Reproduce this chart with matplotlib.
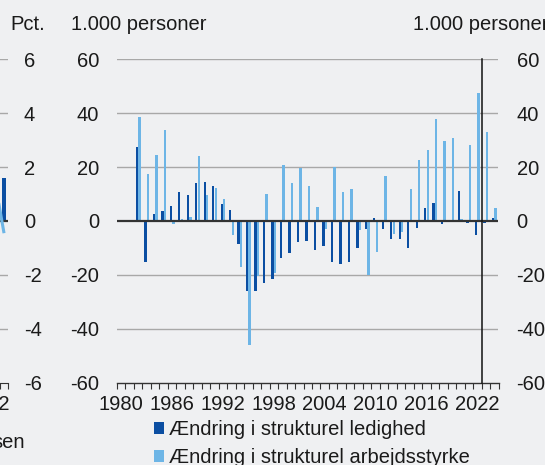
import numpy as np
import matplotlib
matplotlib.use("Agg")
import matplotlib.pyplot as plt
from matplotlib.patches import Patch

plt.rcParams['font.family'] = ['Liberation Sans', 'DejaVu Sans']

# ---------------- data ----------------
years = list(range(1982, 2025))
ledighed = [27.3, -15.3, 2.4, 3.5, 5.6, 10.6, 9.8, 13.9, 14.3, 12.9,
            6.1, 4.1, -8.4, -26.1, -26.0, -23.0, -21.5, -13.7, -11.9, -7.7,
            -7.6, -10.7, -9.3, -15.4, -16.0, -15.4, -10.1, -3.1, 1.0, -3.0,
            -6.7, -6.8, -10.1, -2.5, 4.7, 6.5, -1.0, 0.0, 11.2, -0.7,
            -5.1, -0.7, 1.2]
arbejdsstyrke = [38.6, 17.3, 24.3, 33.7, -1.0, 0.6, 1.4, 24.1, 9.8, 12.4,
                 8.0, -5.1, -17.3, -46.0, -20.4, 9.9, -19.3, 20.6, 14.2, 19.8,
                 12.9, 5.3, -3.1, 20.1, 10.9, 12.0, -3.4, -20.1, -11.7, 16.5,
                 -5.0, -4.1, 12.0, 22.7, 26.2, 37.9, 29.6, 30.7, 0.7, 28.0,
                 47.6, 33.0, 4.7]
xtick_labels = ['1980', '1986', '1992', '1998', '2004', '2010', '2016', '2022']
ytick_values = [-60, -40, -20, 0, 20, 40, 60]
legend_labels = ['Ændring i strukturel ledighed', 'Ændring i strukturel arbejdsstyrke']
projection_start = 2022.5

# neighbouring (cropped) chart at the left edge
left_bar_years = [2024]
left_bar = [1.6]
left_line_years = [2023, 2024]
left_line = [1.4, -0.4]
left_yticks = [-6, -4, -2, 0, 2, 4, 6]
left_xtick_labels = ['2022']

# ---------------- style ----------------
BG = '#eff0f2'
DARK = '#0b4ea2'
LIGHT = '#6db5e6'
GRID = '#a8a8a8'
TXT = '#1a1a1a'
FS = 14.5

W, H = 545, 465
fig = plt.figure(figsize=(W / 100, H / 100), dpi=100, facecolor=BG)

y_top, y_bot = 59.3, 382.5


def fx(px):
    return px / W


def fy(px):
    return 1 - px / H


# ---------------- main chart ----------------
x0, x1 = 117, 498.5
ax = fig.add_axes([fx(x0), fy(y_bot), fx(x1 - x0), (y_bot - y_top) / H])
ax.set_facecolor(BG)
ax.set_xlim(1979.5, 2024.5)
ax.set_ylim(-60, 60)

yr = np.array(years, dtype=float)
bw = 0.28
ax.bar(yr - 0.15, ledighed, width=bw, color=DARK, zorder=3, linewidth=0)
ax.bar(yr + 0.15, arbejdsstyrke, width=bw, color=LIGHT, zorder=3, linewidth=0)

for v in ytick_values:
    if v not in (0, -60):
        ax.axhline(v, color=GRID, lw=1.0, zorder=1)
ax.axhline(0, color='#333333', lw=1.6, zorder=4)
ax.axvline(projection_start, color='#111111', lw=1.1, zorder=5, clip_on=False)

for s in ['left', 'right', 'top']:
    ax.spines[s].set_visible(False)
ax.spines['bottom'].set_color('#333333')
ax.spines['bottom'].set_linewidth(1.0)

ax.set_xticks(np.arange(1979.5, 2025, 1.0))
ax.set_xticklabels([])
ax.tick_params(axis='x', which='major', length=4, width=0.8, color='#333333', direction='out')
ax.set_xticks([int(t) for t in xtick_labels], minor=True)
ax.set_xticklabels(xtick_labels, minor=True, fontsize=FS, color=TXT)
ax.tick_params(axis='x', which='minor', length=0, pad=9)

ax.set_yticks(ytick_values)
ax.set_yticklabels([str(v) for v in ytick_values], fontsize=FS, color=TXT)
ax.tick_params(axis='y', length=0, pad=13)

ax2 = ax.twinx()
ax2.set_ylim(-60, 60)
ax2.set_yticks(ytick_values)
ax2.set_yticklabels([str(v) for v in ytick_values], fontsize=FS, color=TXT)
ax2.tick_params(axis='y', length=0, pad=13)
for s in ax2.spines.values():
    s.set_visible(False)

fig.text(fx(71), fy(30), '1.000 personer', fontsize=FS, color=TXT, va='baseline', ha='left')
fig.text(fx(413), fy(30), '1.000 personer', fontsize=FS, color=TXT, va='baseline', ha='left')
fig.text(fx(10), fy(30), 'Pct.', fontsize=FS, color=TXT, va='baseline', ha='left')

handles = [Patch(facecolor=DARK, edgecolor='none'), Patch(facecolor=LIGHT, edgecolor='none')]
fig.legend(handles, legend_labels, loc='upper left', bbox_to_anchor=(fx(154), fy(420)),
           frameon=False, fontsize=FS, handlelength=0.5, handleheight=0.5,
           handletextpad=0.25, labelspacing=0.45, borderpad=0, borderaxespad=0,
           labelcolor=TXT)

# ---------------- cropped neighbouring chart ----------------
lx1 = 8
lx0 = -200
axL = fig.add_axes([fx(lx0), fy(y_bot), fx(lx1 - lx0), (y_bot - y_top) / H])
axL.set_facecolor(BG)
axL.set_xlim(2000.0, 2024.5)
axL.set_ylim(-6, 6)
for v in left_yticks:
    if v not in (0, -6):
        axL.axhline(v, color=GRID, lw=1.0, zorder=1)
axL.axhline(0, color='#333333', lw=1.6, zorder=4)
axL.bar(left_bar_years, left_bar, width=0.45, color=DARK, zorder=3, linewidth=0)
axL.plot(left_line_years, left_line, color=LIGHT, lw=2.2, zorder=5)
for s in ['left', 'right', 'top']:
    axL.spines[s].set_visible(False)
axL.spines['bottom'].set_color('#333333')
axL.set_xticks(np.arange(2000.5, 2025, 1.0))
axL.set_xticklabels([])
axL.tick_params(axis='x', which='major', length=4, width=0.8, color='#333333')
axL.set_xticks([int(t) for t in left_xtick_labels], minor=True)
axL.set_xticklabels(left_xtick_labels, minor=True, fontsize=FS, color=TXT)
axL.tick_params(axis='x', which='minor', length=0, pad=9)
axL.yaxis.tick_right()
axL.set_yticks(left_yticks)
axL.set_yticklabels([str(v) for v in left_yticks], fontsize=FS, color=TXT)
axL.tick_params(axis='y', length=0, pad=11.5)
fig.text(fx(25), fy(448), 'sen', fontsize=FS, color=TXT, ha='right', va='baseline')

fig.savefig('out.png', dpi=100, facecolor=BG)
